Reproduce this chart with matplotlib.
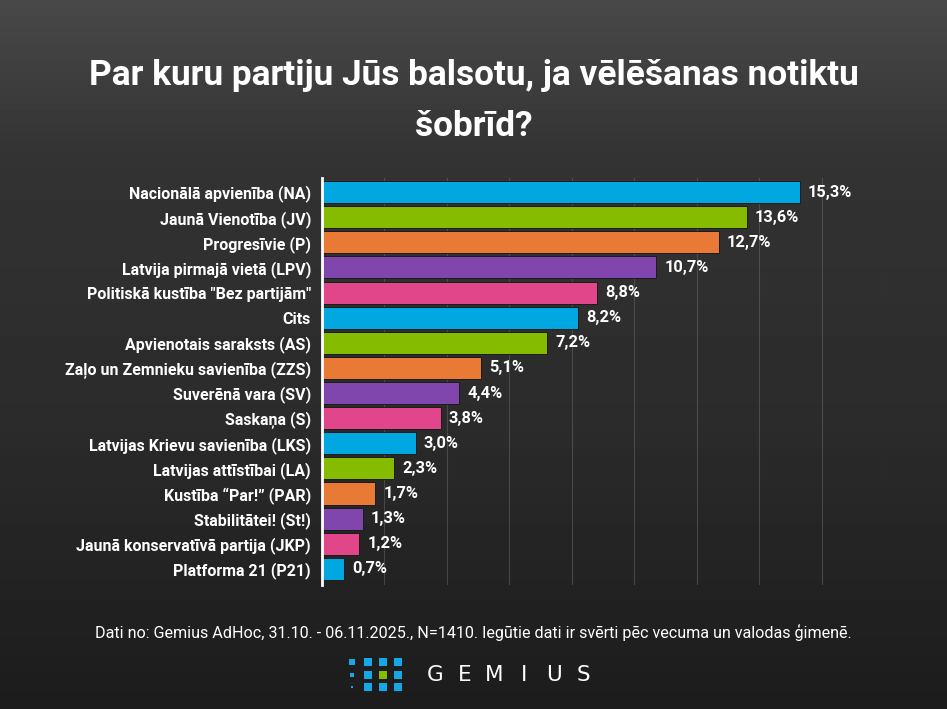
#!/usr/bin/env python3
"""
plot.py - Gemius party-preference bar chart (Latvia, Nov 2025).
"""

import numpy as np
import matplotlib
matplotlib.use('Agg')
import matplotlib.pyplot as plt

# ── Data ──
PARTIES = [
    "Nacionālā apvienība (NA)",
    "Jaunā Vienotība (JV)",
    "Progresīvie (P)",
    "Latvija pirmajā vietā (LPV)",
    "Politiskā kustība \"Bez partijām\"",
    "Cits",
    "Apvienotais saraksts (AS)",
    "Zaļo un Zemnieku savienība (ZZS)",
    "Suverēnā vara (SV)",
    "Saskaņa (S)",
    "Latvijas Krievu savienība (LKS)",
    "Latvijas attīstībai (LA)",
    "Kustība “Par!” (PAR)",
    "Stabilitātei! (St!)",
    "Jaunā konservatīvā partija (JKP)",
    "Platforma 21 (P21)",
]
VALUES = [15.3, 13.6, 12.7, 10.7, 8.8, 8.2, 7.2, 5.1, 4.4, 3.8, 3.0, 2.3, 1.7, 1.3, 1.2, 0.7]

TITLE_LINES = ["Par kuru partiju Jūs balsotu, ja vēlēšanas notiktu", "šobrīd?"]
SOURCE = ("Dati no: Gemius AdHoc, 31.10. - 06.11.2025., N=1410. "
          "Iegūtie dati ir svērti pēc vecuma un valodas ģimenē.")

# ── Style ──
PALETTE = ['#00a7e1', '#85bc00', '#e97a36', '#8146ae', '#e1458a']
plt.rcParams['font.family'] = ['Roboto', 'DejaVu Sans']

W, H = 947, 709
fig = plt.figure(figsize=(W / 100, H / 100), dpi=100)

# background: dark gradient standing in for the blurred photo
bg = fig.add_axes([0, 0, 1, 1], zorder=-10)
grad = np.concatenate([
    np.linspace(0.285, 0.20, 160),
    np.linspace(0.20, 0.17, 260),
    np.linspace(0.17, 0.11, 289),
])
img = np.repeat(grad[:, None], 40, axis=1)
bg.imshow(img, cmap='gray', vmin=0, vmax=1, aspect='auto', extent=[0, 1, 0, 1], origin='upper')
bg.set_axis_off()

# ── Chart ──
ax = fig.add_axes([322 / W, 1 - 585 / H, 562 / W, 407 / H])
ax.set_facecolor('none')
y = np.arange(len(PARTIES))
colors = [PALETTE[i % len(PALETTE)] for i in range(len(PARTIES))]
ax.barh(y, VALUES, height=0.88, color=colors, edgecolor='#1c1c1c', linewidth=0.7, zorder=3)

ax.set_xlim(0, 18)
ax.set_ylim(15.64, -0.56)
ax.set_xticks(np.arange(2, 19, 2))
ax.xaxis.grid(True, color='#6a6a6a', linewidth=0.8, alpha=0.5, zorder=0)
ax.tick_params(axis='x', length=0, labelbottom=False)
ax.set_yticks(y)
ax.set_yticklabels(PARTIES, fontsize=11.5, fontweight='bold', color='white')
ax.tick_params(axis='y', length=0, pad=8)
for s in ['top', 'right', 'bottom']:
    ax.spines[s].set_visible(False)
ax.spines['left'].set_color('white')
ax.spines['left'].set_linewidth(2)
ax.spines['left'].set_zorder(5)

for yi, v in zip(y, VALUES):
    ax.annotate(f"{v:.1f}%".replace('.', ','), (v, yi), xytext=(6, 0),
                textcoords='offset points', va='center', ha='left',
                fontsize=11.8, fontweight='bold', color='white', zorder=4)

# ── Texts ──
for line, ty in zip(TITLE_LINES, [75, 127]):
    fig.text(0.5, 1 - ty / H, line, ha='center', va='center', fontsize=25.4,
             fontweight='bold', color='white')
fig.text(0.5, 1 - 632 / H, SOURCE, ha='center', va='center', fontsize=11.6, color='white')

# ── Gemius logo ──
logo = fig.add_axes([340 / W, 1 - 697 / H, 70 / W, 45 / H])
logo.set_xlim(340, 410)
logo.set_ylim(697, 652)
logo.set_axis_off()
dot_x = [352, 368, 383, 398]
dot_y = [662, 675, 687]
for ci, dx in enumerate(dot_x):
    for ri, dy in enumerate(dot_y):
        size = [14, 7, 4][ri] if ci == 0 else 26
        c = '#85bc00' if (ci == 2 and ri == 1) else '#14a9e6'
        logo.scatter(dx, dy, s=size, marker='s', color=c, linewidths=0)

gx0, gx1 = 420, 598
for i, ch in enumerate("GEMIUS"):
    cx = gx0 + (gx1 - gx0) * (i + 0.5) / 6
    fig.text(cx / W, 1 - 675 / H, ch, ha='center', va='center', fontsize=15.5,
             color='white', family=['DejaVu Sans'])

fig.savefig('out.png', dpi=100, facecolor=fig.get_facecolor())
